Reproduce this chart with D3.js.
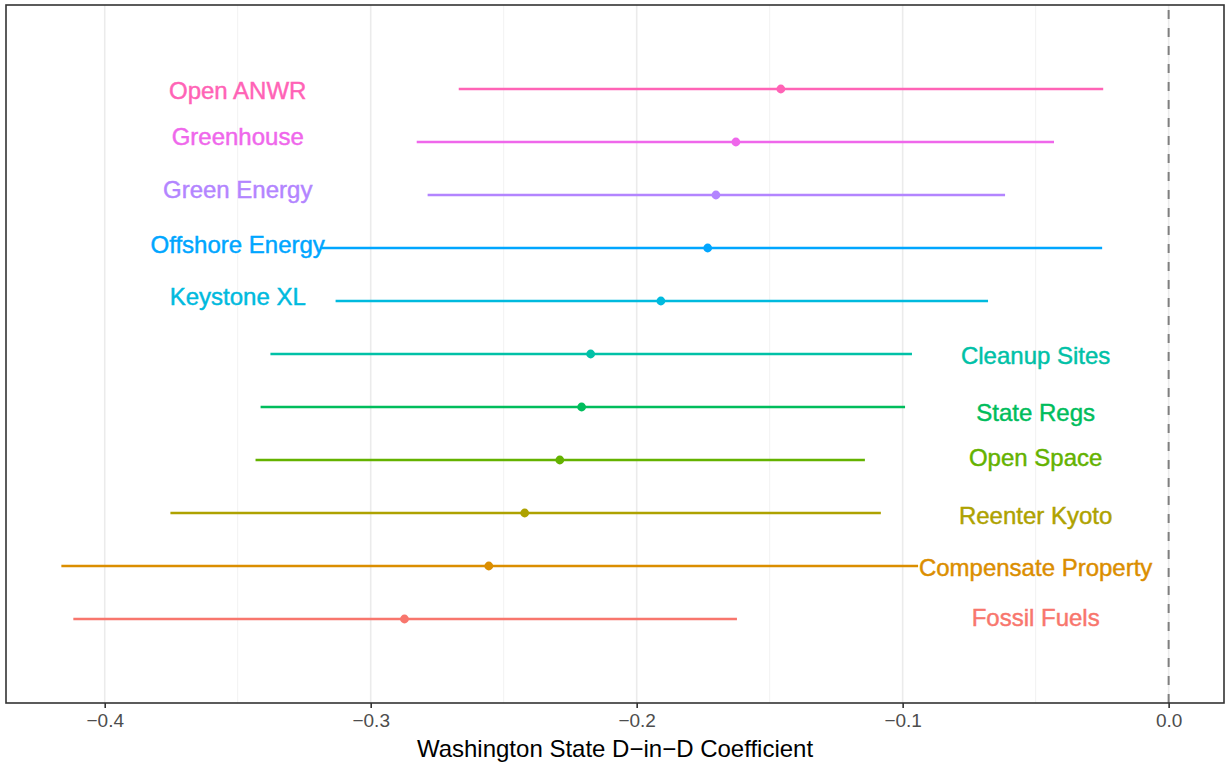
<!DOCTYPE html>
<html>
<head>
<meta charset="utf-8">
<script src="https://cdn.jsdelivr.net/npm/d3@7/dist/d3.min.js"></script>
<style>
  html, body { margin: 0; padding: 0; background: #fff; }
  svg { display: block; font-family: "Liberation Sans", Arial, Helvetica, sans-serif; }
</style>
</head>
<body>
<svg id="chart" width="1225" height="763"></svg>
<script>
// Policy items, bottom row first
const items = ["Fossil Fuels", "Compensate Property", "Reenter Kyoto", "Open Space",
  "State Regs", "Cleanup Sites", "Keystone XL", "Offshore Energy", "Green Energy",
  "Greenhouse", "Open ANWR"];
// Point estimates and confidence bounds
const estimate = [-0.2873, -0.2556, -0.2421, -0.2289, -0.2207, -0.2173, -0.1909, -0.1733, -0.1702, -0.1627, -0.1458];
const lower    = [-0.4118, -0.4163, -0.3753, -0.3433, -0.3414, -0.3377, -0.3132, -0.3190, -0.2786, -0.2827, -0.2669];
const upper    = [-0.1623, -0.0942, -0.1082, -0.1142, -0.0991, -0.0965, -0.0679, -0.0250, -0.0615, -0.0431, -0.0246];
// Text label anchors (coefficient value, row value)
const labelX = [-0.05, -0.05, -0.05, -0.05, -0.05, -0.05, -0.35, -0.35, -0.35, -0.35, -0.35];
const labelY = [1.02, 1.98, 2.96, 4.04, 4.89, 5.98, 7.09, 8.06, 9.11, 10.11, 10.98];
const colors = ["#F8766D", "#DB8E00", "#AEA200", "#64B200", "#00BD5C", "#00C1A7",
  "#00BADE", "#00A6FF", "#B385FF", "#EF67EB", "#FF63B6"];
const majorTicks = [-0.4, -0.3, -0.2, -0.1, 0.0];
const minorTicks = [-0.35, -0.25, -0.15, -0.05];
const xTitle = "Washington State D\u2212in\u2212D Coefficient";

const rows = items.map((name, i) => ({
  name, est: estimate[i], lo: lower[i], hi: upper[i],
  lx: labelX[i], ly: labelY[i], color: colors[i], row: i + 1
}));

const svg = d3.select("#chart");
const panel = { left: 6, right: 1224, top: 5, bottom: 703 };

// x domain: data range (including the zero reference) expanded by 5%
const xMin = d3.min(lower), xMax = 0;
const pad = (xMax - xMin) * 0.05;
const x = d3.scaleLinear().domain([xMin - pad, xMax + pad]).range([panel.left, panel.right]);
const y = d3.scaleLinear().domain([1 - 1.585, items.length + 1.585]).range([panel.bottom, panel.top]);

// background
svg.append("rect").attr("x", panel.left).attr("y", panel.top)
  .attr("width", panel.right - panel.left).attr("height", panel.bottom - panel.top)
  .attr("fill", "#fff");

// vertical grid
svg.append("g").selectAll("line").data(minorTicks).join("line")
  .attr("x1", d => x(d)).attr("x2", d => x(d))
  .attr("y1", panel.top).attr("y2", panel.bottom)
  .attr("stroke", "#F2F2F2").attr("stroke-width", 1);
svg.append("g").selectAll("line").data(majorTicks).join("line")
  .attr("x1", d => x(d)).attr("x2", d => x(d))
  .attr("y1", panel.top).attr("y2", panel.bottom)
  .attr("stroke", "#EBEBEB").attr("stroke-width", 1.6);

// zero reference line
svg.append("line")
  .attr("x1", x(0)).attr("x2", x(0))
  .attr("y1", panel.top).attr("y2", panel.bottom)
  .attr("stroke", "#7F7F7F").attr("stroke-width", 2)
  .attr("stroke-dasharray", "9,9").attr("stroke-dashoffset", 13);

// interval bars
svg.append("g").selectAll("line").data(rows).join("line")
  .attr("x1", d => x(d.lo)).attr("x2", d => x(d.hi))
  .attr("y1", d => y(d.row)).attr("y2", d => y(d.row))
  .attr("stroke", d => d.color).attr("stroke-width", 2.4);

// estimates
svg.append("g").selectAll("circle").data(rows).join("circle")
  .attr("cx", d => x(d.est)).attr("cy", d => y(d.row)).attr("r", 4.4)
  .attr("fill", d => d.color);

// item labels
svg.append("g").selectAll("text").data(rows).join("text")
  .attr("x", d => x(d.lx)).attr("y", d => y(d.ly))
  .attr("text-anchor", "middle").attr("dominant-baseline", "central")
  .attr("font-size", 24).attr("fill", d => d.color)
  .attr("stroke", d => d.color).attr("stroke-width", 0.45)
  .text(d => d.name);

// panel border
svg.append("rect").attr("x", panel.left).attr("y", panel.top)
  .attr("width", panel.right - panel.left).attr("height", panel.bottom - panel.top)
  .attr("fill", "none").attr("stroke", "#333333").attr("stroke-width", 1.6);

// bottom axis
const axis = d3.axisBottom(x).tickValues(majorTicks).tickSize(5).tickPadding(6)
  .tickFormat(d => d3.format(".1f")(d).replace("-", "\u2212"));
const gx = svg.append("g").attr("transform", `translate(0,${panel.bottom})`).call(axis);
gx.select(".domain").remove();
gx.selectAll(".tick line").attr("stroke", "#333333").attr("stroke-width", 1.6);
gx.selectAll(".tick text").attr("fill", "#4D4D4D").attr("font-size", 19)
  .attr("font-family", "Liberation Sans, Arial, sans-serif");

// axis title
svg.append("text").attr("x", (panel.left + panel.right) / 2).attr("y", 757)
  .attr("text-anchor", "middle").attr("font-size", 24).attr("fill", "#000")
  .text(xTitle);
</script>
</body>
</html>
